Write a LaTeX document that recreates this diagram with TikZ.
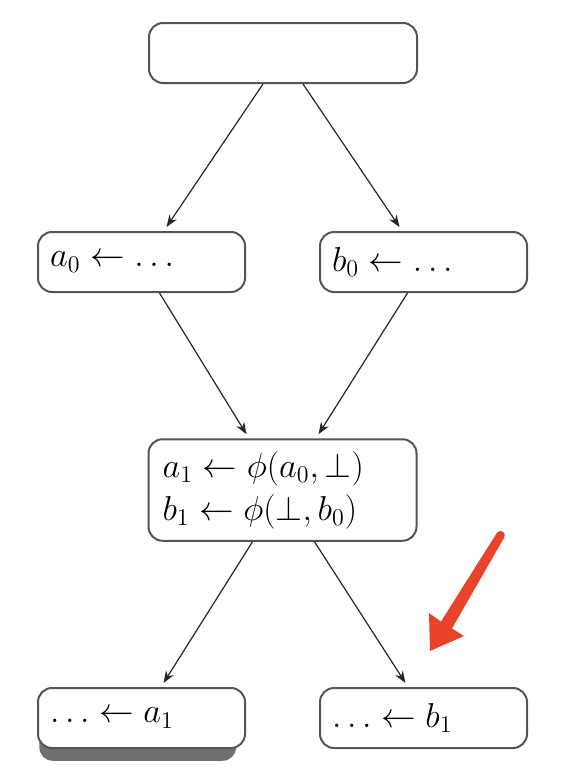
\documentclass[tikz,border=0pt]{standalone}
\usepackage{amsmath}
\usepackage{tikz}
\usetikzlibrary{arrows.meta}
\usetikzlibrary{shadows}
\definecolor{boxgray}{RGB}{85,85,85}
\definecolor{markred}{RGB}{233,68,42}
\tikzset{
  stmt/.style={draw=boxgray, line width=1pt, rounded corners=7pt,
    minimum height=30pt, inner sep=6pt, align=left,
    font=\fontsize{17}{21.5}\selectfont},
  small/.style={stmt, minimum width=103.5pt, text width=91.5pt},
  wide/.style={stmt, minimum width=134pt, text width=120pt},
  flow/.style={draw=black!85, line width=0.6pt, -{Stealth[length=6pt,width=4.5pt]}}
}

\begin{document}
\begin{tikzpicture}[x=0.5pt,y=-0.5pt]
    \useasboundingbox (0,0) rectangle (568,782);

    \node[wide] (entry) at (283,53) {};

    \node[small] (a0) at (141.5,262) {$a_0 \leftarrow \ldots$};
    \node[small] (b0) at (423.5,262) {$b_0 \leftarrow \ldots$};

    \node[wide, minimum height=50pt] (merge) at (282.5,490)
      {$a_1 \leftarrow \phi(a_0, \bot)$\\ $b_1 \leftarrow \phi(\bot, b_0)$};

    \node[small, fill=white, drop shadow={shadow xshift=-2pt, shadow yshift=-7.5pt,
      shadow scale=0.95, opacity=0.7, fill=black!80}] (a1) at (141.5,718) {$\ldots \leftarrow a_1$};
    \node[small] (b1) at (423.5,718) {$\ldots \leftarrow b_1$};

    \draw[flow] ([xshift=-10pt]entry.south) -- ([xshift=12.5pt,yshift=2pt]a0.north);
    \draw[flow] ([xshift=10pt]entry.south) -- ([xshift=-12pt,yshift=2pt]b0.north);

    \draw[flow] ([xshift=9pt]a0.south) -- ([xshift=-18pt,yshift=2pt]merge.north);
    \draw[flow] ([xshift=-8pt]b0.south) -- ([xshift=18pt,yshift=2pt]merge.north);

    \draw[flow] ([xshift=-15pt]merge.south) -- ([xshift=11pt,yshift=2pt]a1.north);
    \draw[flow] ([xshift=16pt]merge.south) -- ([xshift=-9pt,yshift=2pt]b1.north);

    % red marker
    \fill[markred] (496.8,533) -- (504.2,537.5) -- (452,628.5)
      -- (464,636) -- (430,651) -- (429,613) -- (441,621.5) -- cycle;
    \fill[markred] (500.5,535.2) circle (4.3);
  \end{tikzpicture}
\end{document}
